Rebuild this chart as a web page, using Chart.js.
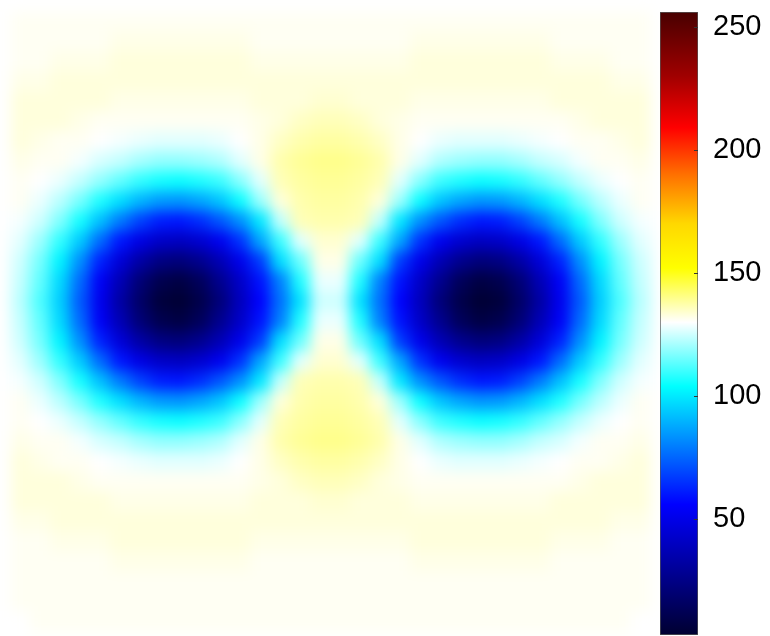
<!DOCTYPE html>
<html>
<head>
<meta charset="utf-8">
<script src="https://cdn.jsdelivr.net/npm/chart.js@4.4.1/dist/chart.umd.min.js"></script>
<style>
  html, body { margin: 0; padding: 0; background: #fff; }
  body { width: 770px; height: 636px; position: relative; overflow: hidden; }
  #heatWrap { position: absolute; left: 11px; top: 12px; width: 640px; height: 620px; filter: blur(7px); }
  #barWrap { position: absolute; left: 640px; top: 0; width: 130px; height: 636px; }
</style>
</head>
<body>
<div id="heatWrap"><canvas id="heat"></canvas></div>
<div id="barWrap"><canvas id="cbar"></canvas></div>
<script>
// cell values, top row first, left column first
const heatRows = [
  [131,131,131,131,131,131,131,131,131,131,131,131,131,131,131,131,131,131,131,131,131,131,131,131,131,131,131,131,131,131,131,131],
  [131,131,131,131,131,132,132,132,132,132,132,132,131,131,131,131,131,131,131,131,132,132,132,132,132,132,132,131,131,131,131,131],
  [131,131,132,132,132,133,133,133,133,133,133,133,132,132,132,132,132,132,132,132,133,133,133,133,133,133,133,132,132,132,131,131],
  [132,132,133,133,133,133,133,133,133,133,133,133,133,133,133,133,133,133,133,133,133,133,133,133,133,133,133,133,133,133,132,132],
  [133,133,133,133,133,132,132,132,132,132,132,132,133,133,133,134,134,133,133,133,132,132,132,132,132,132,132,133,133,133,133,133],
  [133,133,133,132,131,131,131,131,131,131,131,131,132,133,135,136,136,135,133,132,131,131,131,131,131,131,131,131,132,133,133,133],
  [133,132,131,131,130,129,128,127,127,127,128,130,132,135,137,138,138,137,135,132,130,128,127,127,127,128,129,130,131,131,132,133],
  [132,131,131,129,126,124,121,119,119,120,122,127,132,137,139,140,140,139,137,132,127,122,120,119,119,121,124,126,129,131,131,132],
  [131,130,128,124,119,114,109,106,105,107,110,118,127,136,138,139,139,138,136,127,118,110,107,105,106,109,114,119,124,128,130,131],
  [131,128,123,116,107,98,90,85,84,87,93,105,120,133,137,138,138,137,133,120,105,93,87,84,85,90,98,107,116,123,128,131],
  [129,125,117,106,92,79,68,61,60,64,72,83,100,124,136,137,137,136,124,100,83,72,64,60,61,68,79,92,106,117,125,129],
  [127,120,109,94,76,60,49,42,40,44,52,65,87,110,127,134,134,127,110,87,65,52,44,40,42,49,60,76,94,109,120,127],
  [125,116,102,83,62,46,33,24,22,27,37,51,67,98,115,132,132,115,98,67,51,37,27,22,24,33,46,62,83,102,116,125],
  [124,114,97,76,54,37,21,11,8,14,27,42,59,80,107,128,128,107,80,59,42,27,14,8,11,21,37,54,76,97,114,124],
  [123,112,95,73,52,33,17,6,4,10,22,39,56,77,99,125,125,99,77,56,39,22,10,4,6,17,33,52,73,95,112,123],
  [124,114,97,76,54,37,21,11,8,14,27,42,59,80,107,128,128,107,80,59,42,27,14,8,11,21,37,54,76,97,114,124],
  [125,116,102,83,62,46,33,24,22,27,37,51,67,98,115,132,132,115,98,67,51,37,27,22,24,33,46,62,83,102,116,125],
  [127,120,109,94,76,60,49,42,40,44,52,65,87,110,127,134,134,127,110,87,65,52,44,40,42,49,60,76,94,109,120,127],
  [129,125,117,106,92,79,68,61,60,64,72,83,100,124,136,137,137,136,124,100,83,72,64,60,61,68,79,92,106,117,125,129],
  [131,128,123,116,107,98,90,85,84,87,93,105,120,133,137,138,138,137,133,120,105,93,87,84,85,90,98,107,116,123,128,131],
  [131,130,128,124,119,114,109,106,105,107,110,118,127,136,138,139,139,138,136,127,118,110,107,105,106,109,114,119,124,128,130,131],
  [132,131,131,129,126,124,121,119,119,120,122,127,132,137,139,140,140,139,137,132,127,122,120,119,119,121,124,126,129,131,131,132],
  [133,132,131,131,130,129,128,127,127,127,128,130,132,135,137,138,138,137,135,132,130,128,127,127,127,128,129,130,131,131,132,133],
  [133,133,133,132,131,131,131,131,131,131,131,131,132,133,135,136,136,135,133,132,131,131,131,131,131,131,131,131,132,133,133,133],
  [133,133,133,133,133,132,132,132,132,132,132,132,133,133,133,134,134,133,133,133,132,132,132,132,132,132,132,133,133,133,133,133],
  [132,132,133,133,133,133,133,133,133,133,133,133,133,133,133,133,133,133,133,133,133,133,133,133,133,133,133,133,133,133,132,132],
  [131,131,132,132,132,133,133,133,133,133,133,133,132,132,132,132,132,132,132,132,133,133,133,133,133,133,133,132,132,132,131,131],
  [131,131,131,131,131,132,132,132,132,132,132,132,131,131,131,131,131,131,131,131,132,132,132,132,132,132,132,131,131,131,131,131],
  [131,131,131,131,131,131,131,131,131,131,131,131,131,131,131,131,131,131,131,131,131,131,131,131,131,131,131,131,131,131,131,131],
  [131,131,131,131,131,131,131,131,131,131,131,131,131,131,131,131,131,131,131,131,131,131,131,131,131,131,131,131,131,131,131,131],
  [130,131,131,131,131,131,131,131,131,131,131,131,131,131,131,131,131,131,131,131,131,131,131,131,131,131,131,131,131,131,131,130]
];

const colorbarRange = [3, 256];
const colorbarTicks = [50, 100, 150, 200, 250];

// colormap: value -> rgb
const colorStops = [
  [3, [0, 0, 48]],
  [56, [0, 0, 255]],
  [104, [0, 255, 255]],
  [130, [255, 255, 255]],
  [152, [255, 255, 0]],
  [170, [255, 216, 0]],
  [190, [255, 112, 0]],
  [209, [255, 0, 0]],
  [230, [160, 0, 0]],
  [256, [72, 0, 0]]
];

function valueColor(v) {
  if (v <= colorStops[0][0]) return rgb(colorStops[0][1]);
  for (let i = 1; i < colorStops.length; i++) {
    const [v1, c1] = colorStops[i];
    if (v <= v1) {
      const [v0, c0] = colorStops[i - 1];
      const t = (v - v0) / (v1 - v0);
      return rgb(c0.map((c, k) => c + (c1[k] - c) * t));
    }
  }
  return rgb(colorStops[colorStops.length - 1][1]);
}

function rgb(c) {
  return `rgb(${Math.round(c[0])},${Math.round(c[1])},${Math.round(c[2])})`;
}

// heatmap: stacked unit bars, one dataset per row (bottom row first)
const columnIds = heatRows[0].map((_, i) => i);
const heatDatasets = heatRows.slice().reverse().map(row => ({
  data: row.map(() => 1),
  backgroundColor: row.map(valueColor),
  borderWidth: 0,
  barPercentage: 1,
  categoryPercentage: 1,
  inflateAmount: 1
}));

new Chart(document.getElementById("heat"), {
  type: "bar",
  data: { labels: columnIds, datasets: heatDatasets },
  options: {
    responsive: true,
    maintainAspectRatio: false,
    animation: false,
    events: [],
    layout: { padding: 0 },
    plugins: { legend: { display: false }, tooltip: { enabled: false } },
    scales: {
      x: { display: false, stacked: true },
      y: { display: false, stacked: true, min: 0, max: heatRows.length }
    }
  }
});

// colorbar
const insideTicks = {
  id: "insideTicks",
  afterDatasetsDraw(chart) {
    const { ctx, chartArea } = chart;
    const y = chart.scales.y;
    ctx.save();
    ctx.strokeStyle = "#333";
    ctx.lineWidth = 1;
    colorbarTicks.forEach(v => {
      const py = Math.round(y.getPixelForValue(v)) + 0.5;
      ctx.beginPath();
      ctx.moveTo(chartArea.right - 4, py);
      ctx.lineTo(chartArea.right, py);
      ctx.stroke();
    });
    ctx.restore();
  }
};

new Chart(document.getElementById("cbar"), {
  type: "bar",
  data: {
    labels: ["cb"],
    datasets: [{
      data: [colorbarRange],
      backgroundColor(context) {
        const chart = context.chart;
        if (!chart.chartArea) return "#fff";
        const y = chart.scales.y;
        const g = chart.ctx.createLinearGradient(0, y.getPixelForValue(colorbarRange[0]), 0, y.getPixelForValue(colorbarRange[1]));
        colorStops.forEach(([v, c]) => {
          g.addColorStop((v - colorbarRange[0]) / (colorbarRange[1] - colorbarRange[0]), rgb(c));
        });
        return g;
      },
      borderColor: "#555",
      borderWidth: 1,
      borderSkipped: false,
      barPercentage: 1,
      categoryPercentage: 1
    }]
  },
  options: {
    responsive: true,
    maintainAspectRatio: false,
    animation: false,
    events: [],
    layout: { padding: { left: 20, top: 12, bottom: 1, right: 0 } },
    plugins: { legend: { display: false }, tooltip: { enabled: false } },
    scales: {
      x: { display: false },
      y: {
        position: "right",
        min: colorbarRange[0],
        max: colorbarRange[1],
        afterFit(scale) {
          scale.width = 72;
          scale.paddingTop = 0;
          scale.paddingBottom = 0;
        },
        afterBuildTicks(scale) { scale.ticks = colorbarTicks.map(v => ({ value: v })); },
        grid: { drawOnChartArea: false, drawTicks: false },
        border: { display: false },
        ticks: {
          padding: 15,
          color: "#000",
          font: { family: "'Liberation Sans', Arial, sans-serif", size: 29 }
        }
      }
    }
  },
  plugins: [insideTicks]
});
</script>
</body>
</html>
